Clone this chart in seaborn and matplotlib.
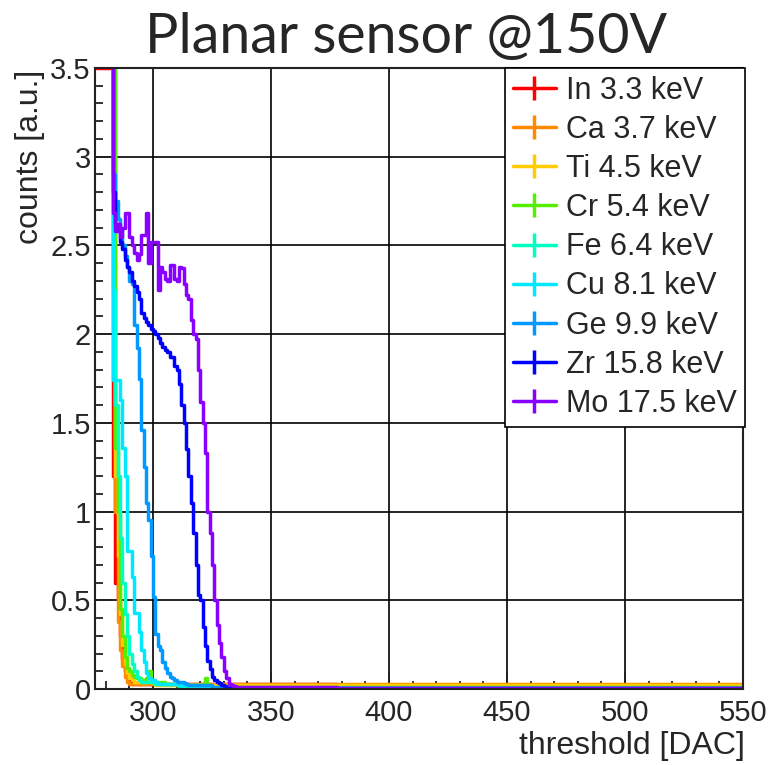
import matplotlib
matplotlib.use("Agg")
import matplotlib.pyplot as plt
from matplotlib.lines import Line2D
from matplotlib.ticker import MultipleLocator, FixedLocator, FixedFormatter
import pandas as pd
import seaborn as sns

# ---------------- data ----------------
TITLE = "Planar sensor @150V"
X_LABEL = "threshold [DAC]"
Y_LABEL = "counts [a.u.]"

LABELS = ["In 3.3 keV", "Ca 3.7 keV", "Ti 4.5 keV", "Cr 5.4 keV", "Fe 6.4 keV",
          "Cu 8.1 keV", "Ge 9.9 keV", "Zr 15.8 keV", "Mo 17.5 keV"]
COLORS = ["#ff0000", "#ff8a00", "#ffcc00", "#55ee00", "#00ffc0",
          "#00e8ff", "#0099ff", "#0000ff", "#8800ff"]

X_TICKS = [300, 350, 400, 450, 500, 550]
Y_TICKS = [0, 0.5, 1, 1.5, 2, 2.5, 3, 3.5]
Y_TICK_LABELS = ["0", "0.5", "1", "1.5", "2", "2.5", "3", "3.5"]

# histogram bin edges (DAC) and bin contents; 10 = above the frame
in_edges = [275, 283, 284, 285, 286, 287, 288, 289, 290, 291, 378, 550]
in_counts = [3.5, 1.2, 0.6, 0.5, 0.3, 0.17, 0.10, 0.06, 0.04, 0.03, 0.02]

ca_edges = [282, 284, 285, 286, 287, 288, 289, 290, 550]
ca_counts = [10, 1.0, 0.38, 0.22, 0.13, 0.07, 0.04, 0.028]

ti_edges = [282, 284, 285, 286, 287, 288, 289, 290, 291, 292, 301, 550]
ti_counts = [10, 1.2, 0.75, 0.42, 0.25, 0.14, 0.09, 0.06, 0.05, 0.04, 0.02]

cr_edges = [282, 284, 285, 286, 287, 288, 289, 290, 291, 292, 293, 295, 297,
            298, 299, 305, 311, 321, 322, 323, 324, 550]
cr_counts = [10, 1.36, 1.00, 0.45, 0.30, 0.18, 0.12, 0.10, 0.08, 0.07, 0.06,
             0.05, 0.06, 0.10, 0.04, 0.03, 0.025, 0.03, 0.06, 0.02, 0.012]

fe_edges = [282, 283, 284, 285, 286, 287, 288, 289, 290, 291, 292, 293, 294,
            295, 301, 311, 550]
fe_counts = [10, 2.25, 1.60, 1.20, 0.85, 0.60, 0.42, 0.30, 0.20, 0.14, 0.10,
             0.07, 0.05, 0.04, 0.03, 0.008]

cu_edges = [282, 283, 286, 287, 288, 289, 291, 292, 294, 295, 296, 297, 298,
            299, 301, 302, 311, 319, 550]
cu_counts = [10, 1.74, 1.63, 1.36, 1.20, 0.78, 0.63, 0.43, 0.32, 0.22, 0.15,
             0.09, 0.06, 0.05, 0.04, 0.03, 0.02, 0.006]

ge_edges = [282] + list(range(283, 316)) + [320, 325, 333, 550]
ge_counts = [10,
             2.90, 2.75, 2.65, 2.58, 2.50, 2.44, 2.38, 2.30, 2.28, 2.05,
             1.92, 1.75, 1.46, 1.25, 1.05, 0.95, 0.75, 0.52, 0.31, 0.24,
             0.22, 0.15, 0.12, 0.09, 0.07, 0.06, 0.05, 0.04, 0.04, 0.04,
             0.035, 0.03,
             0.025, 0.02, 0.012, 0.006]

zr_edges = [282] + list(range(283, 332)) + [550]
zr_counts = [10,
             2.80, 2.62, 2.60, 2.52, 2.48, 2.42, 2.38, 2.35, 2.30, 2.27,
             2.24, 2.20, 2.12, 2.09, 2.07, 2.05, 2.03, 2.02, 2.00, 1.98,
             1.95, 1.93, 1.91, 1.90, 1.87, 1.87, 1.82, 1.80, 1.72, 1.60,
             1.50, 1.35, 1.20, 1.05, 0.88, 0.70, 0.53, 0.50, 0.35, 0.24,
             0.16, 0.11, 0.07, 0.05, 0.04, 0.035, 0.02, 0.015,
             0.008]

mo_edges = [282] + list(range(283, 336)) + [378, 550]
mo_counts = [10,
             2.68, 2.58, 2.62, 2.55, 2.60, 2.68, 2.68, 2.55, 2.50, 2.46,
             2.42, 2.45, 2.56, 2.56, 2.68, 2.40, 2.52, 2.52, 2.52, 2.25,
             2.38, 2.35, 2.31, 2.30, 2.39, 2.39, 2.31, 2.30, 2.38, 2.37,
             2.28, 2.22, 2.20, 2.08, 2.00, 1.97, 1.80, 1.62, 1.50, 1.33,
             1.00, 0.88, 0.70, 0.50, 0.36, 0.26, 0.18, 0.10, 0.06, 0.03,
             0.02, 0.015,
             0.012, 0.004]

SERIES = [(in_edges, in_counts), (ca_edges, ca_counts), (ti_edges, ti_counts),
          (cr_edges, cr_counts), (fe_edges, fe_counts), (cu_edges, cu_counts),
          (ge_edges, ge_counts), (zr_edges, zr_counts), (mo_edges, mo_counts)]

# ---------------- long-form table ----------------
rows = []
for label, (edges, counts) in zip(LABELS, SERIES):
    assert len(edges) == len(counts) + 1, label
    ys = list(counts) + [counts[-1]]
    for x, y in zip(edges, ys):
        rows.append({"x": x, "y": y, "series": label})
df = pd.DataFrame(rows)

# ---------------- plot ----------------
sns.set_theme(style="white")
plt.rcParams["font.family"] = ["Liberation Sans", "DejaVu Sans"]

fig = plt.figure(figsize=(7.68, 7.65), dpi=100)
ax = fig.add_axes([95 / 768, 76 / 765, 648 / 768, 621 / 765])

sns.lineplot(data=df, x="x", y="y", hue="series", hue_order=LABELS,
             palette=COLORS, estimator=None, sort=False,
             drawstyle="steps-post", linewidth=2.5, legend=False, ax=ax)

ax.set_xlim(275.4, 550)
ax.set_ylim(0, 3.5)
ax.set_xlabel("")
ax.set_ylabel("")

ax.xaxis.set_major_locator(FixedLocator(X_TICKS))
ax.xaxis.set_minor_locator(MultipleLocator(10))
ax.yaxis.set_major_locator(FixedLocator(Y_TICKS))
ax.yaxis.set_major_formatter(FixedFormatter(Y_TICK_LABELS))
ax.yaxis.set_minor_locator(MultipleLocator(0.1))

ax.grid(True, which="major", color="black", linewidth=1.2)
ax.set_axisbelow(True)

ax.tick_params(which="both", direction="in", top=False, right=False,
               bottom=True, left=True, color="#222222", width=1.3)
ax.tick_params(which="major", length=12)
ax.tick_params(which="minor", length=6)
ax.tick_params(axis="x", which="major", labelsize=21, pad=7)
ax.tick_params(axis="y", which="major", labelsize=21, pad=3)

for sp in ax.spines.values():
    sp.set_color("#222222")
    sp.set_linewidth(1.5)
    sp.set_visible(True)

handles = [Line2D([], [], color=c, lw=2.5, marker="|", markersize=17,
                  markeredgewidth=2.5) for c in COLORS]
leg = ax.legend(handles, LABELS, loc="upper right", bbox_to_anchor=(1.003, 1.0),
                frameon=True, fancybox=False, edgecolor="black", framealpha=1,
                fontsize=22, handlelength=1.4, handletextpad=0.35,
                labelspacing=0.3, borderpad=0.25, borderaxespad=0)
leg.get_frame().set_linewidth(1.2)

fig.text(406 / 768, 1 - 37 / 765, TITLE, ha="center", va="center",
         fontsize=40, family=["Lato", "DejaVu Sans"])
fig.text(745 / 768, 1 - 746 / 765, X_LABEL, ha="right", va="center",
         fontsize=23)
fig.text(30 / 768, 1 - 70 / 765, Y_LABEL, ha="center", va="top",
         rotation=90, fontsize=23)

fig.savefig("out.png", dpi=100)
